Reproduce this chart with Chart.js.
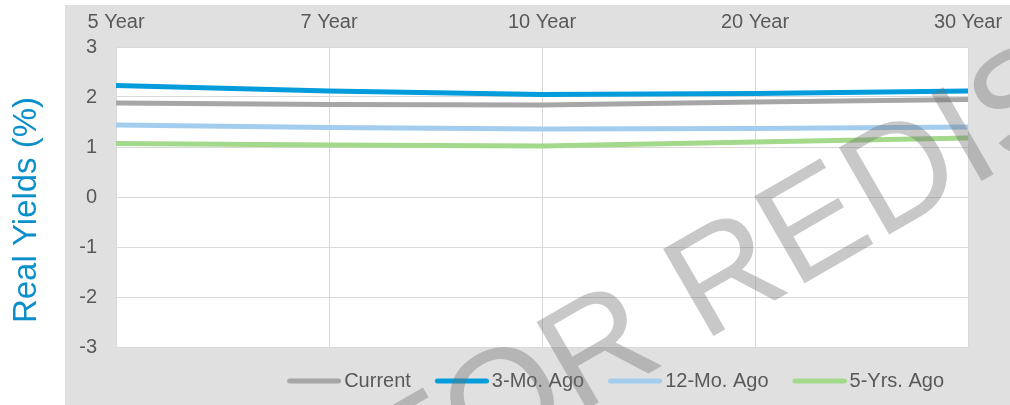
<!DOCTYPE html>
<html>
<head>
<meta charset="utf-8">
<script src="https://cdn.jsdelivr.net/npm/chart.js@4.4.1/dist/chart.umd.min.js"></script>
<style>
  html, body { margin: 0; padding: 0; background: #ffffff; }
  #wrap { width: 1010px; height: 405px; }
</style>
</head>
<body>
<div id="wrap"><canvas id="chart" width="1010" height="405"></canvas></div>
<script>
// tenors along the top axis
const tenors = ['5 Year', '7 Year', '10 Year', '20 Year', '30 Year'];

// real yields in %
const current = [1.88, 1.85, 1.84, 1.90, 1.95];
const threeMoAgo = [2.23, 2.12, 2.05, 2.07, 2.12];
const twelveMoAgo = [1.44, 1.39, 1.36, 1.37, 1.40];
const fiveYrsAgo = [1.07, 1.04, 1.02, 1.10, 1.18];

const yTicks = [-3, -2, -1, 0, 1, 2, 3];

const FONT = "'Liberation Sans', Arial, sans-serif";
const TEXT_GREY = '#595959';

// legend swatch: a short round-capped line, shifted so the label sits close to it
function legendSwatch(color) {
  const c = document.createElement('canvas');
  c.width = 61;
  c.height = 10;
  const g = c.getContext('2d');
  g.strokeStyle = color;
  g.lineWidth = 5;
  g.lineCap = 'round';
  g.beginPath();
  g.moveTo(9.5, 5);
  g.lineTo(58.5, 5);
  g.stroke();
  return c;
}

const panel = {
  id: 'panel',
  beforeDraw(chart) {
    const { ctx, chartArea } = chart;
    ctx.save();
    ctx.fillStyle = '#dfe0df';
    ctx.fillRect(65, 5, chart.width - 65, chart.height - 5);
    ctx.fillStyle = '#ffffff';
    ctx.fillRect(chartArea.left, chartArea.top, chartArea.right - chartArea.left, chartArea.bottom - chartArea.top);
    ctx.restore();
  },
  afterDraw(chart) {
    const { ctx } = chart;

    // y axis title, sits outside the grey panel
    ctx.save();
    ctx.translate(27, 210);
    ctx.rotate(-Math.PI / 2);
    ctx.font = `33px ${FONT}`;
    ctx.fillStyle = '#0b8fca';
    ctx.textAlign = 'center';
    ctx.textBaseline = 'middle';
    ctx.fillText('Real Yields (%)', 0, 0);
    ctx.restore();

    // watermark
    ctx.save();
    ctx.font = `146px ${FONT}`;
    ctx.fillStyle = 'rgba(108,108,108,0.375)';
    const lead = ctx.measureText('NOT FOR ').width;
    ctx.translate(703, 342);
    ctx.rotate(-30 * Math.PI / 180);
    ctx.textBaseline = 'alphabetic';
    ctx.fillText('NOT FOR REDISTRIBUTION', -lead, 0);
    ctx.restore();
  },
};

const ds = (label, data, color) => ({
  label,
  data,
  borderColor: color,
  backgroundColor: color,
  borderWidth: 5,
  pointRadius: 0,
  pointHoverRadius: 0,
  pointStyle: legendSwatch(color),
  tension: 0,
  fill: false,
});

new Chart(document.getElementById('chart'), {
  type: 'line',
  data: {
    labels: tenors,
    datasets: [
      ds('Current', current, '#a6a6a6'),
      ds('3-Mo. Ago', threeMoAgo, '#049cdb'),
      ds('12-Mo. Ago', twelveMoAgo, '#a3cdef'),
      ds('5-Yrs. Ago', fiveYrsAgo, '#a2d98b'),
    ],
  },
  options: {
    responsive: false,
    animation: false,
    events: [],
    layout: { padding: { left: 0, right: 42, top: 5, bottom: 4 } },
    scales: {
      x: {
        position: 'top',
        offset: false,
        grid: { color: '#d9d9d9', lineWidth: 1, drawTicks: false },
        border: { display: false },
        ticks: { color: TEXT_GREY, font: { family: FONT, size: 20 }, padding: 13, maxRotation: 0 },
        afterFit(scale) {
          scale.height = 42;
          scale.paddingLeft = 0;
          scale.paddingRight = 0;
        },
      },
      y: {
        min: yTicks[0],
        max: yTicks[yTicks.length - 1],
        afterBuildTicks(scale) { scale.ticks = yTicks.map((v) => ({ value: v })); },
        grid: { color: '#d9d9d9', lineWidth: 1, drawTicks: false },
        border: { display: false },
        ticks: { color: TEXT_GREY, font: { family: FONT, size: 20 }, padding: 19 },
        afterFit(scale) { scale.width = 116; },
      },
    },
    plugins: {
      tooltip: { enabled: false },
      legend: {
        position: 'bottom',
        align: 'end',
        labels: {
          usePointStyle: true,
          pointStyleWidth: 47,
          padding: 24,
          color: TEXT_GREY,
          font: { family: FONT, size: 20 },
        },
      },
    },
  },
  plugins: [panel],
});
</script>
</body>
</html>
